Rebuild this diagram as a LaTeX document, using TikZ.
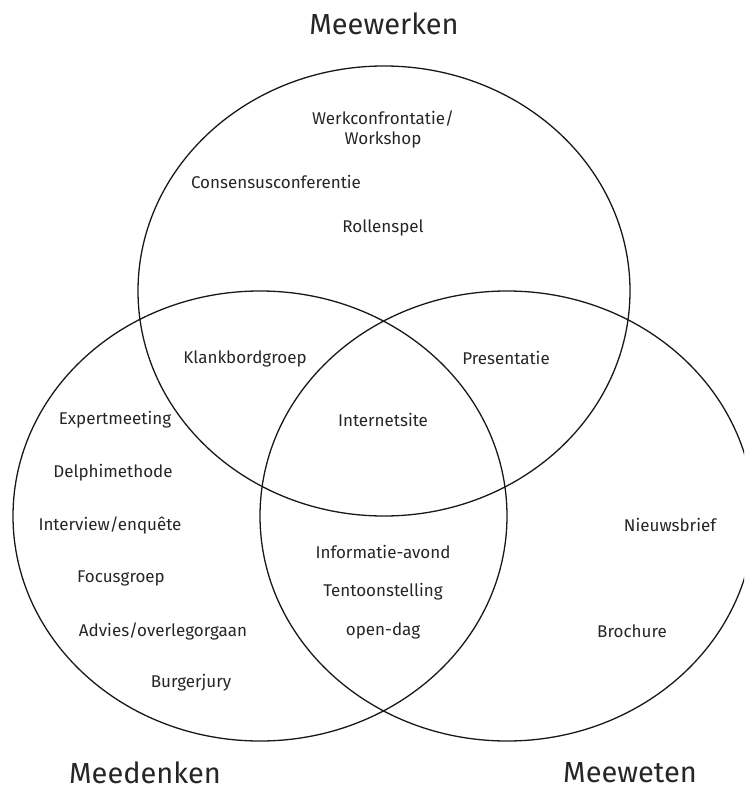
\documentclass[tikz,border=0pt]{standalone}
\usepackage{fontspec}
\setmainfont{Fira Sans}
\begin{document}
\begin{tikzpicture}[x=1pt,y=-1pt,
  lbl/.style={font=\fontsize{17}{20}\selectfont, text=black!85, inner sep=0pt, align=center},
  ttl/.style={font=\fontsize{29}{33}\selectfont, text=black!85, inner sep=0pt},
  ring/.style={draw=black!90, line width=1.3pt}]
\useasboundingbox (0,0) rectangle (744,791);
\begin{scope}
\clip (0,0) rectangle (744,791);
% sets
\draw[ring] (384,291) ellipse [x radius=246, y radius=225];
\draw[ring] (260,516) ellipse [x radius=247, y radius=225];
\draw[ring] (507,516) ellipse [x radius=247, y radius=225];
\end{scope}
% titles
\node[ttl] (meewerken) at (384,24) {Meewerken};
\node[ttl] (meedenken) at (145,773) {Meedenken};
\node[ttl] (meeweten) at (630,773) {Meeweten};
% Meewerken only
\node[lbl] (werk) at (383,129) {Werkconfrontatie/\\Workshop};
\node[lbl] (consensus) at (276,182) {Consensusconferentie};
\node[lbl] (rollen) at (383,228) {Rollenspel};
% pairs
\node[lbl] (klank) at (245,359) {Klankbordgroep};
\node[lbl] (present) at (506,358) {Presentatie};
\node[lbl] (internet) at (383,420) {Internetsite};
% Meedenken only
\node[lbl] (expert) at (115,420) {Expertmeeting};
\node[lbl] (delphi) at (113,473) {Delphimethode};
\node[lbl] (interview) at (110,525) {Interview/enquête};
\node[lbl] (focus) at (121,578) {Focusgroep};
\node[lbl] (advies) at (163,631) {Advies/overlegorgaan};
\node[lbl] (burger) at (191,683) {Burgerjury};
% Meedenken & Meeweten
\node[lbl] (info) at (383,552) {Informatie-avond};
\node[lbl] (tentoon) at (383,592) {Tentoonstelling};
\node[lbl] (open) at (383,631) {open-dag};
% Meeweten only
\node[lbl] (nieuws) at (670,525) {Nieuwsbrief};
\node[lbl] (brochure) at (632,631) {Brochure};
\end{tikzpicture}
\end{document}
